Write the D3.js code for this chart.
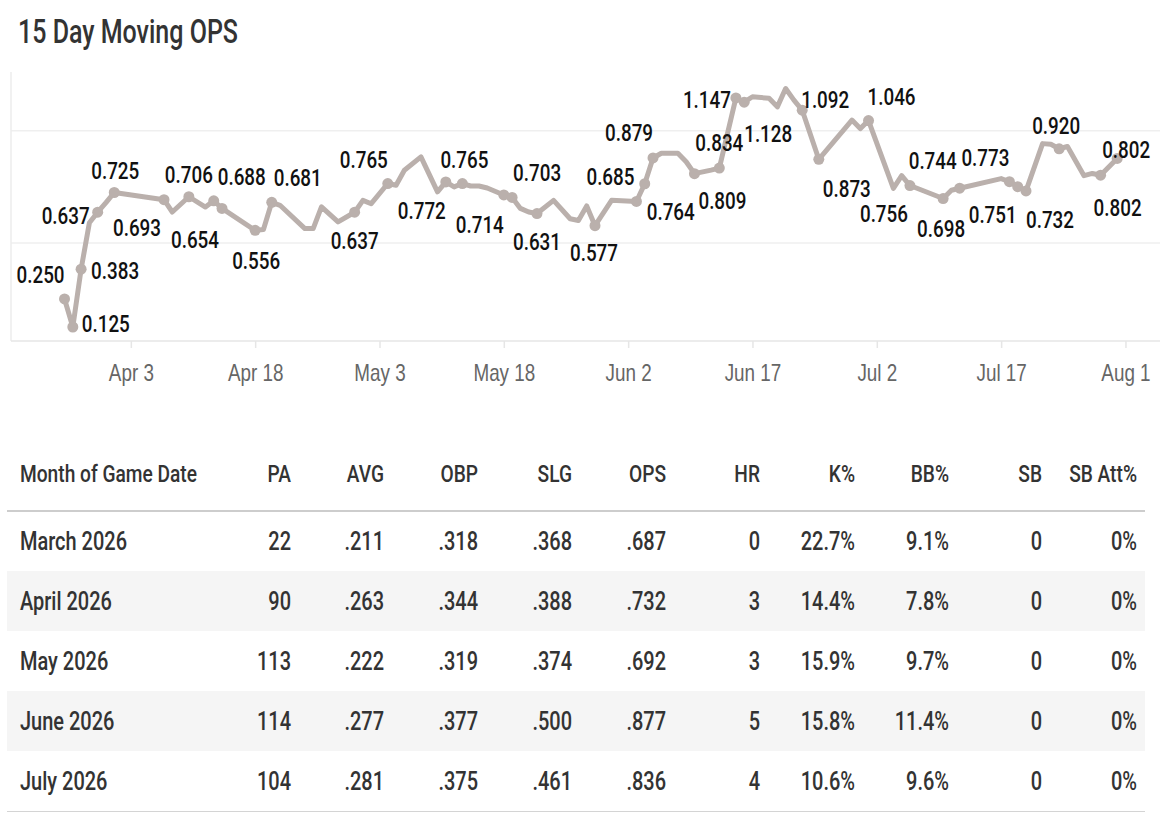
<!DOCTYPE html>
<html>
<head>
<meta charset="utf-8">
<script src="https://cdn.jsdelivr.net/npm/d3@7"></script>
<style>
  body { margin: 0; background: #fff; }
  svg { display: block; font-family: Roboto, "Noto Sans", sans-serif; font-weight: 500; }
</style>
</head>
<body>
<svg id="chart" width="1162" height="822"></svg>
<script>
// 15 day moving OPS, one value per game date (2026)
const gameDates = [
  '2026-03-26','2026-03-27','2026-03-28','2026-03-29','2026-03-30','2026-03-31','2026-04-01',
  '2026-04-07','2026-04-08','2026-04-10','2026-04-12','2026-04-13','2026-04-14','2026-04-18',
  '2026-04-19','2026-04-20','2026-04-21','2026-04-24','2026-04-25','2026-04-26','2026-04-28',
  '2026-04-30','2026-05-01','2026-05-02','2026-05-04','2026-05-05','2026-05-06','2026-05-08',
  '2026-05-10','2026-05-11','2026-05-12','2026-05-13','2026-05-14','2026-05-15','2026-05-16',
  '2026-05-18','2026-05-19','2026-05-20','2026-05-21','2026-05-22','2026-05-24','2026-05-26',
  '2026-05-27','2026-05-28','2026-05-29','2026-05-31','2026-06-03','2026-06-04','2026-06-05',
  '2026-06-06','2026-06-08','2026-06-09','2026-06-10','2026-06-12','2026-06-13','2026-06-15',
  '2026-06-16','2026-06-17','2026-06-19','2026-06-20','2026-06-21','2026-06-22','2026-06-23',
  '2026-06-25','2026-06-29','2026-06-30','2026-07-01','2026-07-04','2026-07-05','2026-07-06',
  '2026-07-10','2026-07-11','2026-07-12','2026-07-17','2026-07-18','2026-07-19','2026-07-20',
  '2026-07-22','2026-07-23','2026-07-24','2026-07-25','2026-07-27','2026-07-28','2026-07-29',
  '2026-07-31'
];
const opsValues = [
  0.250,0.125,0.383,0.590,0.637,0.680,0.725,
  0.693,0.638,0.706,0.660,0.688,0.654,0.556,
  0.560,0.681,0.668,0.564,0.564,0.661,0.594,
  0.637,0.690,0.675,0.765,0.757,0.824,0.884,
  0.728,0.772,0.750,0.765,0.754,0.754,0.745,
  0.714,0.703,0.654,0.638,0.631,0.690,0.608,
  0.600,0.665,0.577,0.690,0.685,0.764,0.879,
  0.900,0.900,0.862,0.809,0.825,0.834,1.147,
  1.128,1.152,1.145,1.107,1.189,1.137,1.092,
  0.873,1.048,1.010,1.046,0.743,0.800,0.756,
  0.698,0.735,0.744,0.787,0.773,0.751,0.732,
  0.943,0.940,0.920,0.930,0.800,0.810,0.802,
  0.877
];

// labelled marks and the text shown next to them
const labelDates = [
  '2026-03-26','2026-03-27','2026-03-28','2026-03-30','2026-04-01','2026-04-07','2026-04-10',
  '2026-04-13','2026-04-14','2026-04-18','2026-04-20','2026-04-30','2026-05-04','2026-05-11',
  '2026-05-13','2026-05-18','2026-05-19','2026-05-22','2026-05-29','2026-06-03','2026-06-04',
  '2026-06-05','2026-06-10','2026-06-13','2026-06-15','2026-06-16','2026-06-23','2026-06-25',
  '2026-07-01','2026-07-06','2026-07-10','2026-07-12','2026-07-18','2026-07-19','2026-07-20',
  '2026-07-24','2026-07-29','2026-07-31'
];
const labelTexts = [
  '0.250','0.125','0.383','0.637','0.725','0.693','0.706',
  '0.688','0.654','0.556','0.681','0.637','0.765','0.772',
  '0.765','0.714','0.703','0.631','0.577','0.685','0.764',
  '0.879','0.809','0.834','1.147','1.128','1.092','0.873',
  '1.046','0.756','0.698','0.744','0.773','0.751','0.732',
  '0.920','0.802','0.802'
];
// label nudges (layout only), pixels from the mark
const labelNudge = [
  [-24,-25],[33,-4],[34,1],[-32,3],[1,-22],[-27,28],[0,-22],
  [28,-24],[-27,31],[1,30],[26,-25],[0,28],[-24,-24],[-24,28],
  [2,-24],[-24,29],[25,-25],[0,28],[-1,27],[-26,-25],[26,28],
  [-24,-26],[28,27],[0,-26],[-29,1],[24,31],[23,-11],[28,29],
  [23,-24],[-26,28],[-2,30],[-27,-28],[-24,-24],[-25,28],[24,28],
  [-3,-23],[17,32],[9,-9]
];

const tickDates = ['2026-04-03','2026-04-18','2026-05-03','2026-05-18','2026-06-02',
  '2026-06-17','2026-07-02','2026-07-17','2026-08-01'];
const gridValues = [0.5, 1.0];

// monthly table
const columns = ['Month of Game Date','PA','AVG','OBP','SLG','OPS','HR','K%','BB%','SB','SB Att%'];
const months = ['March 2026','April 2026','May 2026','June 2026','July 2026'];
const pa    = [22, 90, 113, 114, 104];
const avg   = ['.211','.263','.222','.277','.281'];
const obp   = ['.318','.344','.319','.377','.375'];
const slg   = ['.368','.388','.374','.500','.461'];
const ops   = ['.687','.732','.692','.877','.836'];
const hr    = [0, 3, 3, 5, 4];
const kPct  = ['22.7%','14.4%','15.9%','15.8%','10.6%'];
const bbPct = ['9.1%','7.8%','9.7%','11.4%','9.6%'];
const sb    = [0, 0, 0, 0, 0];
const sbAtt = ['0%','0%','0%','0%','0%'];

const parse = d3.utcParse('%Y-%m-%d');
const fmtTick = d3.utcFormat('%b %-d');
const svg = d3.select('#chart');

const lineColor = '#bab0ac';
const plot = { left: 11, right: 1160, top: 72, bottom: 341 };

// the reference uses a tall condensed face; squeeze the installed one to match
function condense(sel, sample, targetWidth) {
  const probe = svg.append('text')
    .attr('font-size', sel.attr('font-size'))
    .text(sample);
  const k = targetWidth / probe.node().getComputedTextLength();
  probe.remove();
  sel.each(function() {
    const w = this.getComputedTextLength();
    d3.select(this).attr('textLength', w * k).attr('lengthAdjust', 'spacingAndGlyphs');
  });
}

const title = svg.append('text')
  .attr('x', 18).attr('y', 43)
  .attr('font-size', 34)
  .attr('fill', '#333')
  .text('15 Day Moving OPS');
condense(title, '15 Day Moving OPS', 220);

const x = d3.scaleUtc()
  .domain([Date.UTC(2026, 2, 19, 13), Date.UTC(2026, 7, 5, 4)])
  .range([plot.left, plot.right]);
const y = d3.scaleLinear()
  .domain([0.0625, 1.2625])
  .range([plot.bottom, plot.top]);

const points = gameDates.map((d, i) => ({ date: parse(d), value: opsValues[i] }));
const byDate = new Map(points.map(p => [+p.date, p]));

// grid
svg.append('g').selectAll('line').data(gridValues).enter().append('line')
  .attr('x1', plot.left).attr('x2', plot.right)
  .attr('y1', d => y(d)).attr('y2', d => y(d))
  .attr('stroke', '#efefef').attr('stroke-width', 1.5);

// left border
svg.append('line')
  .attr('x1', plot.left).attr('x2', plot.left)
  .attr('y1', plot.top).attr('y2', plot.bottom)
  .attr('stroke', '#ececec').attr('stroke-width', 1.5);

// x axis
const xAxis = d3.axisBottom(x)
  .tickValues(tickDates.map(parse))
  .tickFormat(fmtTick)
  .tickSize(7)
  .tickPadding(16);
const gx = svg.append('g')
  .attr('transform', `translate(0,${plot.bottom})`)
  .call(xAxis);
gx.select('.domain').attr('stroke', '#e6e6e6').attr('stroke-width', 1.5)
  .attr('d', `M${plot.left},0H${plot.right}`);
gx.selectAll('.tick line').attr('stroke', '#e6e6e6').attr('stroke-width', 1.5);
const tickText = gx.selectAll('.tick text')
  .attr('fill', '#666')
  .attr('font-size', 24)
  .attr('font-family', null);
condense(tickText, 'Apr 3', 45);

// line
const line = d3.line().x(d => x(d.date)).y(d => y(d.value));
svg.append('path')
  .datum(points)
  .attr('d', line)
  .attr('fill', 'none')
  .attr('stroke', lineColor)
  .attr('stroke-width', 5)
  .attr('stroke-linejoin', 'round')
  .attr('stroke-linecap', 'round');

const labelled = labelDates.map((d, i) => ({
  p: byDate.get(+parse(d)),
  text: labelTexts[i],
  dx: labelNudge[i][0],
  dy: labelNudge[i][1]
}));

svg.append('g').selectAll('circle').data(labelled).enter().append('circle')
  .attr('cx', d => x(d.p.date))
  .attr('cy', d => y(d.p.value))
  .attr('r', 5.5)
  .attr('fill', lineColor);

const labelSel = svg.append('g').selectAll('text').data(labelled).enter().append('text')
  .attr('x', d => x(d.p.date) + d.dx)
  .attr('y', d => y(d.p.value) + d.dy)
  .attr('dy', '0.36em')
  .attr('text-anchor', 'middle')
  .attr('font-size', 24)
  .attr('fill', '#111')
  .text(d => d.text);
condense(labelSel, '0.725', 48);

// table
const table = { left: 7, right: 1145, headY: 473, top: 511, rowH: 60 };
const colRight = [null, 291, 384, 478, 572, 666, 760, 855, 949, 1042, 1137];
const rows = months.map((m, i) => [m, pa[i], avg[i], obp[i], slg[i], ops[i], hr[i], kPct[i], bbPct[i], sb[i], sbAtt[i]]);

const rowY = d3.scaleBand()
  .domain(months)
  .range([table.top, table.top + table.rowH * months.length]);

svg.append('g').selectAll('rect').data(months.filter((m, i) => i % 2 === 1)).enter().append('rect')
  .attr('x', table.left).attr('width', table.right - table.left)
  .attr('y', d => rowY(d)).attr('height', rowY.bandwidth())
  .attr('fill', '#f5f5f5');

svg.append('line')
  .attr('x1', table.left).attr('x2', table.right)
  .attr('y1', table.top).attr('y2', table.top)
  .attr('stroke', '#cdcdcd').attr('stroke-width', 2);
svg.append('line')
  .attr('x1', table.left).attr('x2', table.right)
  .attr('y1', table.top + table.rowH * months.length + 0.5)
  .attr('y2', table.top + table.rowH * months.length + 0.5)
  .attr('stroke', '#d4d4d4').attr('stroke-width', 1.2);

const cellX = j => j === 0 ? 20 : colRight[j];
const anchor = j => j === 0 ? 'start' : 'end';

const headSel = svg.append('g').selectAll('text').data(columns).enter().append('text')
  .attr('x', (d, j) => cellX(j))
  .attr('y', table.headY)
  .attr('dy', '0.36em')
  .attr('text-anchor', (d, j) => anchor(j))
  .attr('font-size', 24)
  .attr('fill', '#333')
  .text(d => d);
condense(headSel, 'Month of Game Date', 177);

const rowG = svg.append('g').selectAll('g').data(rows).enter().append('g')
  .attr('transform', d => `translate(0,${rowY(d[0]) + rowY.bandwidth() / 2})`);
const cellSel = rowG.selectAll('text').data(d => d).enter().append('text')
  .attr('x', (d, j) => cellX(j))
  .attr('dy', '0.36em')
  .attr('text-anchor', (d, j) => anchor(j))
  .attr('font-size', 25)
  .attr('fill', '#333')
  .text(d => d);
condense(cellSel, 'March 2026', 107);
</script>
</body>
</html>
